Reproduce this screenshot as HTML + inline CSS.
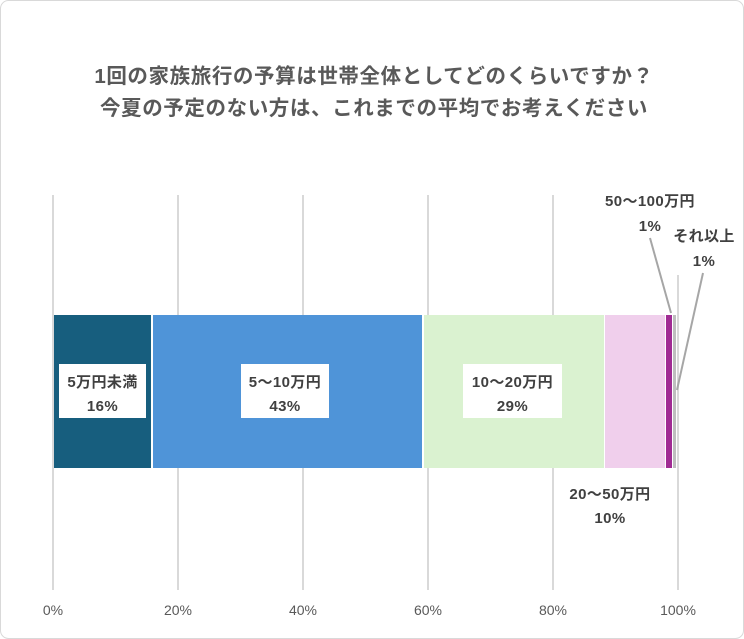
<!DOCTYPE html>
<html><head><meta charset="utf-8"><style>
body{margin:0;background:#fff;}
svg{display:block;font-family:"Liberation Sans","Noto Sans CJK JP",sans-serif;}
</style></head><body>
<svg width="744" height="639" viewBox="0 0 744 639">
<rect x="0.5" y="0.5" width="743" height="638" rx="8" fill="#fff" stroke="#d9d9d9"/>
<g fill="#595959" font-weight="bold" font-size="20.5" text-anchor="middle" letter-spacing="0.6">
<text x="374" y="83">1回の家族旅行の予算は世帯全体としてどのくらいですか？</text>
<text x="374" y="115">今夏の予定のない方は、これまでの平均でお考えください</text>
</g>
<g stroke="#d9d9d9" stroke-width="2">
<line x1="53" y1="195" x2="53" y2="590"/><line x1="178" y1="195" x2="178" y2="590"/>
<line x1="303" y1="195" x2="303" y2="590"/><line x1="428" y1="195" x2="428" y2="590"/>
<line x1="553" y1="195" x2="553" y2="590"/><line x1="678" y1="275" x2="678" y2="590"/>
</g>
<rect x="54" y="315" width="97" height="153" fill="#175e7e"/>
<rect x="153" y="315" width="269" height="153" fill="#4f94d8"/>
<rect x="424" y="315" width="180" height="153" fill="#daf2d0"/>
<rect x="605" y="315" width="60" height="153" fill="#f0cfec"/>
<rect x="666" y="315" width="6" height="153" fill="#a02b93"/>
<rect x="673" y="315" width="3" height="153" fill="#bfbfbf"/>
<g fill="#fff"><rect x="59" y="364" width="87" height="54"/><rect x="241" y="364" width="88" height="54"/><rect x="463" y="364" width="99" height="54"/></g>
<g stroke="#a6a6a6" stroke-width="2"><line x1="650" y1="238" x2="671" y2="313"/><line x1="703" y1="273" x2="677" y2="390"/></g>
<g fill="#404040" font-weight="bold" font-size="15" text-anchor="middle" letter-spacing="0.4">
<text x="102.5" y="387">5万円未満</text><text x="102.5" y="411">16%</text>
<text x="285" y="387">5～10万円</text><text x="285" y="411">43%</text>
<text x="512.5" y="387">10～20万円</text><text x="512.5" y="411">29%</text>
<text x="610" y="499">20～50万円</text><text x="610" y="523">10%</text>
<text x="650" y="206">50～100万円</text><text x="650" y="231">1%</text>
<text x="704" y="241">それ以上</text><text x="704" y="266">1%</text>
</g>
<g fill="#595959" font-size="14" text-anchor="middle">
<text x="53" y="615">0%</text><text x="178" y="615">20%</text><text x="303" y="615">40%</text>
<text x="428" y="615">60%</text><text x="553" y="615">80%</text><text x="678" y="615">100%</text>
</g>
</svg>
</body></html>
